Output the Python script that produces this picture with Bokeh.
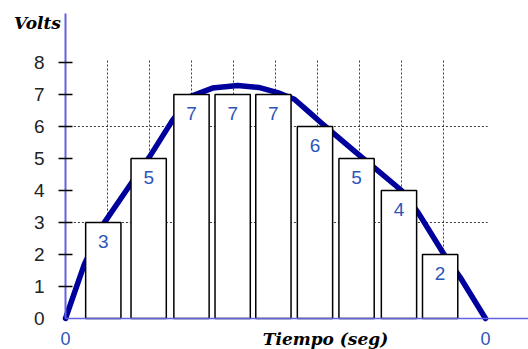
from bokeh.plotting import figure
from bokeh.models import Range1d, FixedTicker, Label, LinearAxis
from bokeh.embed import file_html
from bokeh.resources import INLINE
from bokeh.core.properties import value

# Continuous voltage signal (time in s, volts)
curve_t = [0.0, 0.45, 0.9, 1.5, 2.0, 2.55, 3.0, 3.5, 4.1, 4.6, 5.05, 5.45,
           5.8, 6.1, 6.5, 6.95, 7.5, 8.0, 8.4, 9.0, 9.4, 10.0]
curve_v = [0.0, 1.7, 2.95, 4.1, 5.05, 6.2, 6.95, 7.2, 7.28, 7.22, 7.06, 6.85,
           6.45, 6.1, 5.65, 5.15, 4.55, 4.0, 3.3, 2.03, 1.28, 0.0]

# Sampled (quantised) values
sample_t = [0.9, 1.98, 3.0, 3.98, 4.95, 5.94, 6.93, 7.94, 8.92]
sample_v = [3, 5, 7, 7, 7, 6, 5, 4, 2]

# Axis ticks and dotted guide lines
volt_labels = [0, 1, 2, 3, 4, 5, 6, 7, 8]
volt_marks = [1, 2, 3, 4, 5, 6, 7, 8]
time_ticks = [0, 10]
grid_t = [1, 2, 3, 4, 5, 6, 7, 8, 9]
grid_v = [3, 6]

AXIS_BLUE = "#6262e4"
LABEL_BLUE = "#2d55b8"
CURVE_BLUE = "#00009c"

# 42 px per second, 32 px per volt; the origin sits at (65, 318) on the canvas
p = figure(width=528, height=349,
           x_range=Range1d(-65 / 42, 463 / 42),
           y_range=Range1d(-31 / 32, 318 / 32),
           output_backend="svg", toolbar_location=None,
           min_border=0)
p.outline_line_color = None
p.xgrid.visible = False
p.ygrid.visible = False
p.background_fill_color = "white"
p.border_fill_color = "white"

# Volts axis through the origin: line and tick marks (no mark at 0)
ya = p.yaxis[0]
ya.fixed_location = 0
ya.bounds = (0, 305 / 32)
ya.ticker = FixedTicker(ticks=volt_marks)
ya.axis_line_color = AXIS_BLUE
ya.axis_line_width = 2
ya.major_tick_line_color = "black"
ya.major_tick_line_width = 1.5
ya.major_tick_in = 7
ya.major_tick_out = 7
ya.minor_tick_line_color = None
ya.major_label_text_color = None

# Volts axis labels, 0 included
yl = LinearAxis(fixed_location=0, ticker=FixedTicker(ticks=volt_labels),
                axis_line_color=None, major_tick_line_color=None,
                minor_tick_line_color=None, major_tick_in=0, major_tick_out=7,
                major_label_standoff=14,
                major_label_text_font="Liberation Sans",
                major_label_text_font_size="19px",
                major_label_text_color="#222222")
p.add_layout(yl, "left")

# Time axis, zero crossings marked
xa = p.xaxis[0]
xa.fixed_location = 0
xa.bounds = (0, 463 / 42)
xa.ticker = FixedTicker(ticks=time_ticks)
xa.major_label_overrides = {0: "0", 10: "0"}
xa.axis_line_color = AXIS_BLUE
xa.axis_line_width = 1.5
xa.major_tick_line_color = None
xa.minor_tick_line_color = None
xa.major_label_standoff = 7
xa.major_label_text_font = "Liberation Sans"
xa.major_label_text_font_size = "18px"
xa.major_label_text_color = LABEL_BLUE

# Dotted guide lines
p.segment(x0=grid_t, y0=[0] * len(grid_t), x1=grid_t, y1=[8.12] * len(grid_t),
          line_color="#3a3a3a", line_width=1, line_dash="2 2")
p.segment(x0=[0.2] * len(grid_v), y0=grid_v, x1=[10.05] * len(grid_v), y1=grid_v,
          line_color="#3a3a3a", line_width=1, line_dash="2 2")

# Signal
p.line(curve_t, curve_v, line_color=CURVE_BLUE, line_width=5.5,
       line_join="round", line_cap="round")

# Sample bars
p.vbar(x=sample_t, width=0.84, top=sample_v, bottom=0,
       fill_color="white", line_color="black", line_width=1.5)

p.text(x=sample_t, y=sample_v, text=[str(v) for v in sample_v],
       text_align="center", text_baseline="top", y_offset=12,
       text_font=value("Liberation Sans"), text_font_size="19px",
       text_color=LABEL_BLUE)

# Axis titles
p.add_layout(Label(x=-0.667, y=9.25, text="Volts", text_align="center",
                   text_baseline="middle", text_font="DejaVu Serif",
                   text_font_style="bold italic", text_font_size="17px",
                   text_color="black"))
p.add_layout(Label(x=6.19, y=-0.656, text="Tiempo (seg)", text_align="center",
                   text_baseline="middle", text_font="DejaVu Serif",
                   text_font_style="bold italic", text_font_size="17px",
                   text_color="black"))

open("out.html", "w").write(file_html(p, INLINE))
